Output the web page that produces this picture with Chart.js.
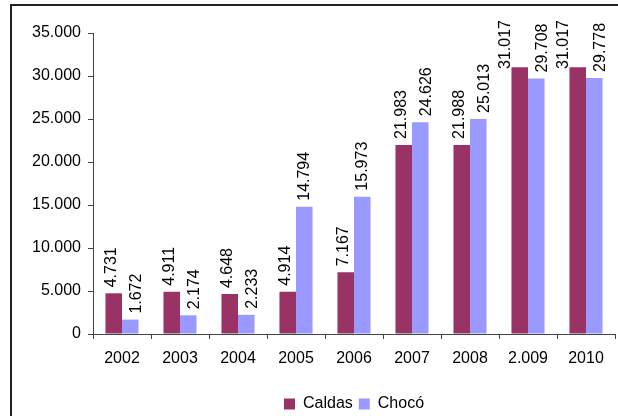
<!DOCTYPE html>
<html>
<head>
<meta charset="utf-8">
<script src="https://cdn.jsdelivr.net/npm/chart.js@4"></script>
<style>
  html, body { margin: 0; padding: 0; background: #fff; }
  #wrap { position: relative; width: 618px; height: 416px; overflow: hidden; }
  #frame { position: absolute; left: 10px; top: 4px; width: 640px; height: 440px; border: 2px solid #222; box-sizing: border-box; }
  canvas { position: absolute; left: 0; top: 0; }
</style>
</head>
<body>
<div id="wrap">
  <div id="frame"></div>
  <canvas id="c" width="618" height="422"></canvas>
</div>
<script>
const years  = ['2002', '2003', '2004', '2005', '2006', '2007', '2008', '2.009', '2010']
const caldas = [4731, 4911, 4648, 4914, 7167, 21983, 21988, 31017, 31017]
const choco  = [1672, 2174, 2233, 14794, 15973, 24626, 25013, 29708, 29778]

const FONT = { family: "'Liberation Sans', Arial, sans-serif", size: 16 }

function fmt(n) { return String(n).replace(/\B(?=(\d{3})+(?!\d))/g, '.') }

// vertical value labels above bars; nudged apart / kept inside the frame like Excel does
const barLabels = {
  id: 'barLabels',
  afterDatasetsDraw(chart) {
    const ctx = chart.ctx
    const gap = 6, minTop = 20
    ctx.save()
    ctx.font = `${FONT.size}px ${FONT.family}`
    ctx.fillStyle = '#000'
    ctx.textAlign = 'left'
    ctx.textBaseline = 'middle'
    const placed = []
    chart.data.datasets.forEach((ds, i) => {
      chart.getDatasetMeta(i).data.forEach((bar, j) => {
        const txt = fmt(ds.data[j])
        const w = ctx.measureText(txt).width
        let x = bar.x + (i === 0 ? -2 : 0), y = bar.y - gap
        if (y - w < minTop) {
          y = minTop + w
          if (y > bar.y - 2) x -= 12
        }
        if (i === 1) {
          const prev = placed[j]
          if (prev && y - w < prev.y && y > prev.y - prev.w) x += 6
        } else {
          placed[j] = { y, w }
        }
        ctx.save()
        ctx.translate(x, y)
        ctx.rotate(-Math.PI / 2)
        ctx.fillText(txt, 0, 0)
        ctx.restore()
      })
    })
    ctx.restore()
  }
}

new Chart(document.getElementById('c'), {
  type: 'bar',
  data: {
    labels: years,
    datasets: [
      { label: 'Caldas', data: caldas, backgroundColor: '#993366' },
      { label: 'Chocó',  data: choco,  backgroundColor: '#9999FF' },
    ],
  },
  plugins: [barLabels],
  options: {
    responsive: false, animation: false,
    categoryPercentage: 0.57, barPercentage: 1.0,
    layout: { padding: { left: 0, right: 3, top: 33, bottom: 0 } },
    plugins: {
      tooltip: { enabled: false },
      legend: {
        position: 'bottom', fullSize: false,
        labels: { color: '#000', font: FONT, boxWidth: 11, boxHeight: 11, padding: 6 },
      },
    },
    scales: {
      x: {
        grid: { display: true, drawOnChartArea: false, tickLength: 5, color: '#444' },
        border: { color: '#444', width: 1 },
        ticks: { color: '#000', font: FONT, padding: 10, maxRotation: 0, autoSkip: false },
        afterFit: s => { s.height = 56 },
      },
      y: {
        min: 0, max: 35000,
        grid: { display: true, drawOnChartArea: false, tickLength: 5, color: '#444' },
        border: { color: '#444', width: 1 },
        ticks: { color: '#000', font: FONT, padding: 7, stepSize: 5000, callback: v => fmt(v) },
        afterFit: s => { s.width = 93 },
      },
    },
  },
})
</script>
</body>
</html>
